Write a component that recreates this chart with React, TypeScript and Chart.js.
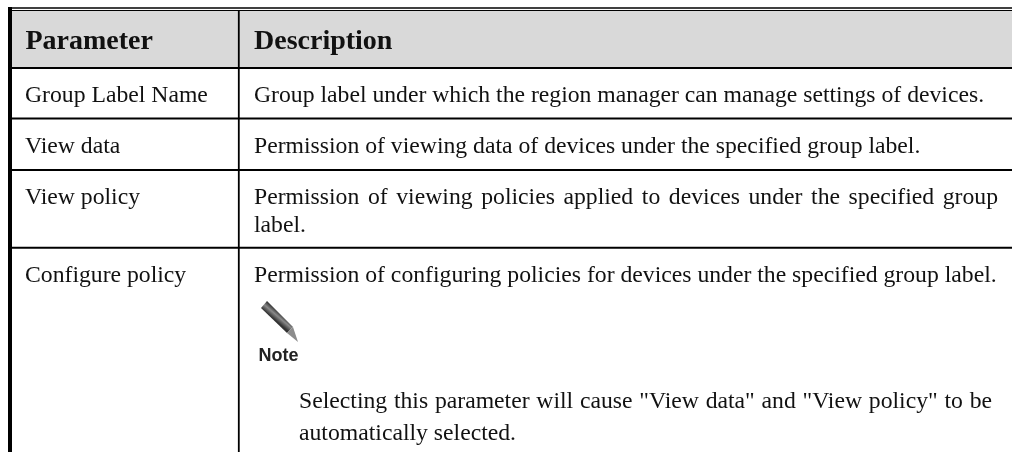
import React, { useEffect, useRef } from "react";
import { Chart, registerables } from "chart.js";

Chart.register(...registerables);

const headers = ["Parameter", "Description"];
const parameters = ["Group Label Name", "View data", "View policy", "Configure policy"];
const descriptions = [
  ["Group label under which the region manager can manage settings of devices."],
  ["Permission of viewing data of devices under the specified group label."],
  ["Permission of viewing policies applied to devices under the specified group", "label."],
  ["Permission of configuring policies for devices under the specified group label."],
];
const noteLines = [
  'Selecting this parameter will cause "View data" and "View policy" to be',
  "automatically selected.",
];
const noteLabel = "Note";

// layout of the table, in canvas pixels
const W = 1012;
const H = 452;
const rowRules = [68, 118.5, 170, 247.7];
const baselines = [102, 153, 204, 282];
const divider = 238.8;
const leftEdge = 10;
const SERIF = '"Liberation Serif", "Times New Roman", serif';
const TEXT = "#111";

const line = (data: { x: number; y: number }[], width: number) => ({
  type: "line" as const,
  data,
  borderColor: "#000",
  borderWidth: width,
  pointRadius: 0,
  tension: 0,
  fill: false,
  order: 1,
});

const datasets = [
  // header shading
  {
    type: "line" as const,
    data: [{ x: leftEdge, y: 39 }, { x: W, y: 39 }],
    borderColor: "#d9d9d9",
    borderWidth: 57,
    pointRadius: 0,
    borderCapStyle: "butt",
    order: 3,
  },
  line([{ x: 8, y: 8 }, { x: W, y: 8 }], 1.6),
  line([{ x: 8, y: 10.5 }, { x: W, y: 10.5 }], 1),
  ...rowRules.map((y) => line([{ x: leftEdge, y }, { x: W, y }], 2)),
  line([{ x: leftEdge, y: 7 }, { x: leftEdge, y: H }], 4),
  line([{ x: divider, y: 10 }, { x: divider, y: H }], 1.8),
];

const tablePlugin = {
  id: "tableText",
  afterDatasetsDraw(chart: any) {
    const { ctx, scales } = chart;
    const px = (v: number) => scales.x.getPixelForValue(v);
    const py = (v: number) => scales.y.getPixelForValue(v);
    const text = (s: string, x: number, y: number, font: string, justifyTo?: number) => {
      ctx.font = font;
      ctx.wordSpacing = "0px";
      if (justifyTo) {
        const gaps = s.split(" ").length - 1;
        ctx.wordSpacing = `${(justifyTo - x - ctx.measureText(s).width) / gaps}px`;
      }
      ctx.fillText(s, px(x), py(y));
      ctx.wordSpacing = "0px";
    };
    ctx.save();
    ctx.textBaseline = "alphabetic";
    ctx.textAlign = "left";
    ctx.fillStyle = "#111";
    const bold = `bold 28px ${SERIF}`;
    const body = `23.7px ${SERIF}`;
    text(headers[0], 25.5, 49, bold);
    text(headers[1], 254, 49, bold);
    ctx.fillStyle = TEXT;
    parameters.forEach((p, i) => text(p, 25, baselines[i], body));
    descriptions.forEach((d, i) =>
      d.forEach((l, j) =>
        text(l, 254, baselines[i] + j * 27.5, body, i === 2 && j === 0 ? 998 : undefined)
      )
    );
    noteLines.forEach((l, j) =>
      text(l, 299, 407.5 + j * 32, body, j === 0 ? 992 : undefined)
    );

    // note icon
    ctx.save();
    ctx.filter = "blur(0.7px)";
    const band = ctx.createLinearGradient(px(261), py(308), px(267), py(301));
    band.addColorStop(0, "#333");
    band.addColorStop(0.5, "#8a8a8a");
    band.addColorStop(1, "#2a2a2a");
    ctx.fillStyle = band;
    ctx.beginPath();
    ctx.moveTo(px(267), py(301));
    ctx.lineTo(px(293), py(327));
    ctx.lineTo(px(287), py(333));
    ctx.lineTo(px(261), py(308));
    ctx.closePath();
    ctx.fill();
    ctx.fillStyle = "#8c8c8c";
    ctx.beginPath();
    ctx.moveTo(px(293), py(327));
    ctx.lineTo(px(298), py(342));
    ctx.lineTo(px(287), py(333));
    ctx.closePath();
    ctx.fill();
    ctx.restore();
    ctx.fillStyle = "#222";
    text(noteLabel, 258.5, 360.5, `bold 18px "Liberation Sans", sans-serif`);
    ctx.restore();
  },
};

export default function App() {
  const ref = useRef<HTMLCanvasElement>(null);
  useEffect(() => {
    document.body.style.margin = "0";
    const chart = new Chart(ref.current!, {
      type: "scatter",
      data: { datasets: datasets as any },
      options: {
        animation: false,
        responsive: false,
        layout: { padding: 0 },
        plugins: { legend: { display: false }, tooltip: { enabled: false } },
        scales: {
          x: { type: "linear", min: 0, max: W, display: false },
          y: { type: "linear", min: 0, max: H, reverse: true, display: false },
        },
      },
      plugins: [tablePlugin],
    });
    return () => chart.destroy();
  }, []);
  return <canvas ref={ref} width={W} height={H} style={{ display: "block", background: "#fff" }} />;
}
